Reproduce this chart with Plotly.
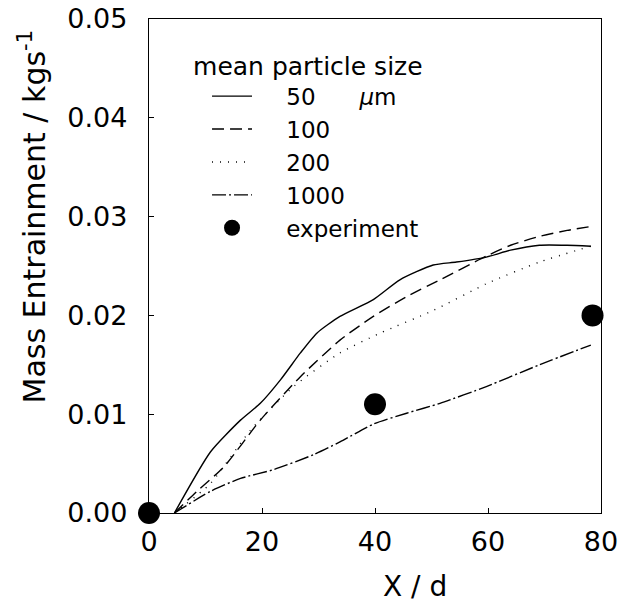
import plotly.graph_objects as go

# Data
x50 = [4.5, 10.9, 16.2, 19.7, 23.3, 26.8, 29.7, 33.8, 39.7, 44.4, 50.3, 54.4, 59.7, 64.0, 69.1, 74.0, 78.2]
y50 = [0.0, 0.0062, 0.0094, 0.0111, 0.0135, 0.0162, 0.0182, 0.0199, 0.0216, 0.0236, 0.0251, 0.0254, 0.0259, 0.0266, 0.0271, 0.0271, 0.0270]

x100 = [4.5, 8.5, 13.3, 19.7, 26.8, 33.8, 39.7, 45.6, 51.5, 59.7, 64.0, 69.1, 74.0, 78.2]
y100 = [0.0, 0.0022, 0.0047, 0.0094, 0.0138, 0.0175, 0.0199, 0.0219, 0.0236, 0.0260, 0.0271, 0.0280, 0.0286, 0.0290]

x200 = [4.5, 10.9, 18.0, 25.6, 33.8, 40.9, 50.3, 59.7, 69.1, 78.2]
y200 = [0.0, 0.0030, 0.0084, 0.0128, 0.0162, 0.0182, 0.0205, 0.0232, 0.0254, 0.0270]

x1000 = [4.5, 10.9, 16.2, 22.1, 29.1, 33.8, 39.7, 45.6, 51.5, 59.7, 69.1, 78.2]
y1000 = [0.0, 0.0022, 0.0035, 0.0044, 0.0059, 0.0072, 0.0090, 0.0101, 0.0111, 0.0128, 0.0150, 0.0170]

x_exp = [0, 40, 78.5]
y_exp = [0.0, 0.011, 0.020]

names = ["50", "100", "200", "1000"]
legend_title = "mean particle size"
x_title = "X / d"
y_title = "Mass Entrainment / kgs<sup>-1</sup>"

FONT = "DejaVu Sans"
NB = "\u00a0"

fig = go.Figure()
dashes = ["solid", "12px,6px", "1px,7px", "14px,3px,2px,3px"]
series = [(x50, y50), (x100, y100), (x200, y200), (x1000, y1000)]
for i, ((xs, ys), nm, d) in enumerate(zip(series, names, dashes)):
    label = NB * 4 + nm
    if i == 0:
        label += NB * 6 + "<i>\u03bc</i>m"
    fig.add_trace(go.Scatter(x=xs, y=ys, mode="lines", name=label,
                             line=dict(color="black", width=1.4, dash=d, shape="spline", smoothing=0.6)))
fig.add_trace(go.Scatter(x=x_exp, y=y_exp, mode="markers", name=NB * 4 + "experiment",
                         marker=dict(color="black", size=22), cliponaxis=False))

axis_common = dict(showgrid=False, zeroline=False, showline=True, linecolor="black", linewidth=1.3,
                   mirror=True, ticks="inside", ticklen=5, tickcolor="black", tickwidth=1.2,
                   automargin=False,
                   tickfont=dict(family=FONT, size=27, color="black"))

fig.update_xaxes(range=[0, 80], tickvals=[0, 20, 40, 60, 80], ticktext=["0", "20", "40", "60", "80"],
                 ticklabelstandoff=4, **axis_common)
fig.update_yaxes(range=[0, 0.05], tickvals=[0, 0.01, 0.02, 0.03, 0.04, 0.05],
                 ticktext=["0.00", "0.01", "0.02", "0.03", "0.04", "0.05"], ticklabelstandoff=15, **axis_common)

fig.add_annotation(text=x_title, xref="paper", yref="paper", x=0.589, y=-0.148, showarrow=False,
                   xanchor="center", yanchor="middle", font=dict(family=FONT, size=28, color="black"))
fig.add_annotation(text=y_title, xref="paper", yref="paper", x=-0.258, y=0.601, showarrow=False,
                   textangle=-90, xanchor="center", yanchor="middle", font=dict(family=FONT, size=30, color="black"))

fig.update_layout(
    width=619, height=605,
    margin=dict(l=149, r=18, t=19, b=92, autoexpand=False),
    plot_bgcolor="white", paper_bgcolor="white",
    legend=dict(x=0.093, y=0.953, xanchor="left", yanchor="top", bgcolor="rgba(0,0,0,0)",
                title=dict(text=legend_title, font=dict(family=FONT, size=25, color="black")),
                font=dict(family=FONT, size=23, color="black"), itemwidth=40, tracegroupgap=0,
                indentation=16),
)

fig.write_html("out.html", post_script="document.body.style.margin='0';",
               config={"displayModeBar": False})
